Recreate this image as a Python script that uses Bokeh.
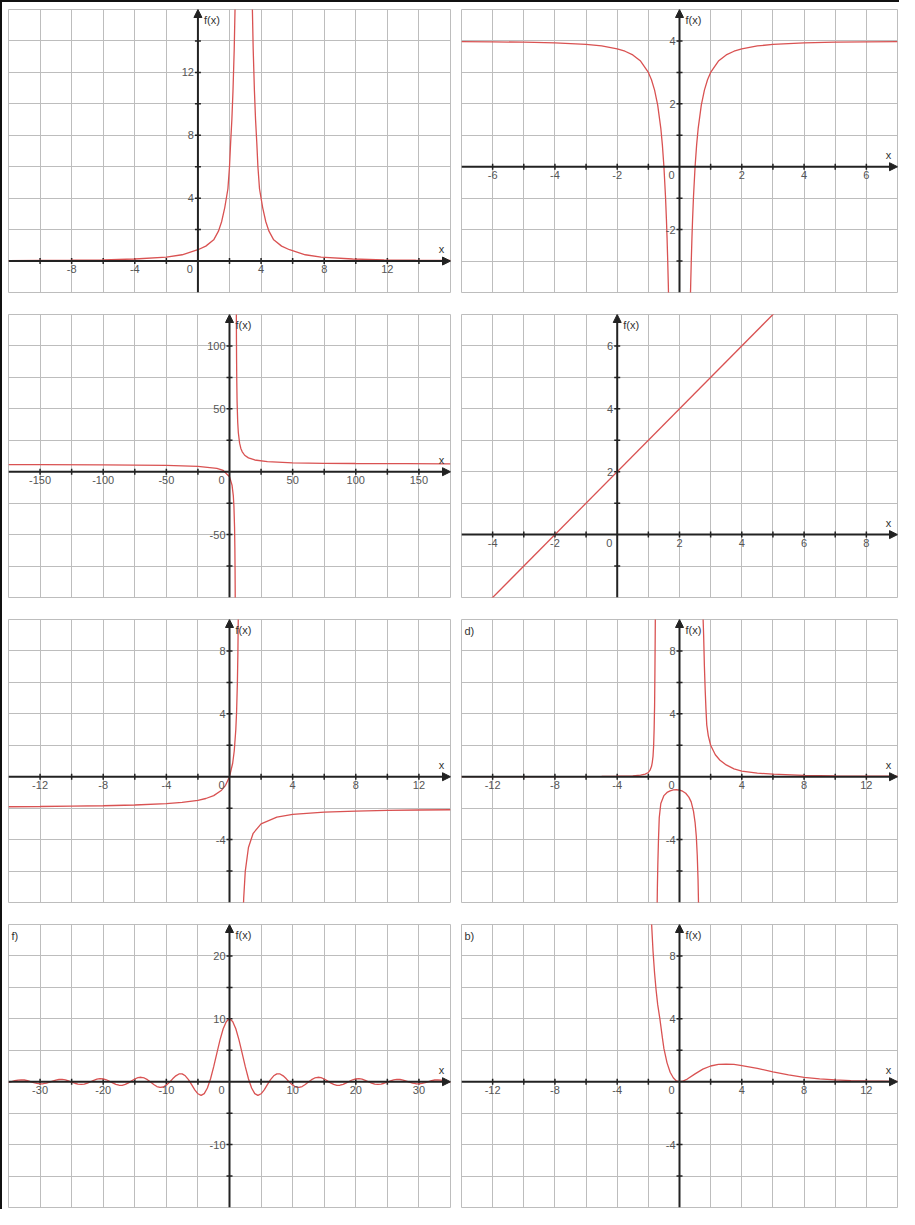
import numpy as np
from bokeh.plotting import figure
from bokeh.layouts import column, row
from bokeh.models import Grid, FixedTicker, Arrow, NormalHead
from bokeh.core.properties import value
from bokeh.embed import file_html
from bokeh.resources import INLINE

# ---------------- data ----------------
# panel 1
p1_left_x = [-12, -10, -8, -6, -4, -2, -1, 0, 0.5, 1, 1.3, 1.5, 1.7, 1.9, 2.0, 2.07, 2.15, 2.22, 2.3, 2.36, 2.42]
p1_left_y = [0.03, 0.04, 0.05, 0.08, 0.13, 0.25, 0.4, 0.72, 0.95, 1.35, 1.9, 2.5, 3.4, 4.6, 6.0, 7.5, 9.0, 10.8, 13.5, 16.5, 20]
p1_right_x = [3.38, 3.44, 3.5, 3.58, 3.65, 3.73, 3.8, 3.9, 4.1, 4.3, 4.5, 4.8, 5.3, 5.8, 6.8, 7.8, 9.8, 11.8, 13.8, 16]
p1_right_y = [20, 16.5, 13.5, 10.8, 9.0, 7.5, 6.0, 4.6, 3.4, 2.5, 1.9, 1.35, 0.95, 0.72, 0.4, 0.25, 0.13, 0.08, 0.05, 0.04]

# panel 2
p2_left_x = [-7, -6, -5, -4, -3, -2.5, -2, -1.75, -1.5, -1.25, -1, -0.9, -0.8, -0.7, -0.6, -0.55, -0.5, -0.45, -0.42, -0.4, -0.38, -0.36, -0.35]
p2_left_y = [3.98, 3.972, 3.96, 3.9375, 3.889, 3.84, 3.75, 3.673, 3.556, 3.36, 3.0, 2.765, 2.4375, 1.959, 1.222, 0.694, 0.0, -0.938, -1.669, -2.25, -2.925, -3.716, -4.163]
p2_right_x = [0.35, 0.36, 0.38, 0.4, 0.42, 0.45, 0.5, 0.55, 0.6, 0.7, 0.8, 0.9, 1, 1.25, 1.5, 1.75, 2, 2.5, 3, 4, 5, 6, 7]
p2_right_y = [-4.163, -3.716, -2.925, -2.25, -1.669, -0.938, 0.0, 0.694, 1.222, 1.959, 2.4375, 2.765, 3.0, 3.36, 3.556, 3.673, 3.75, 3.84, 3.889, 3.9375, 3.96, 3.972, 3.98]

# panel 3
p3_left_x = [-175, -150, -100, -50, -25, -10, -5, 0, 2, 3, 3.5, 4, 4.25, 4.4, 4.5, 4.55]
p3_left_y = [5.72, 5.68, 5.52, 5.09, 4.33, 2.67, 1.0, -4.0, -10.7, -19.0, -27.3, -44.0, -60.7, -77.3, -94.0, -105.0]
p3_right_x = [5.4, 5.45, 5.5, 5.6, 5.75, 6, 6.5, 7, 8, 9, 10, 12, 15, 20, 30, 50, 75, 100, 140, 175]
p3_right_y = [131, 117, 106, 89.3, 72.7, 56, 39.3, 31, 22.7, 18.5, 16, 13.1, 11, 9.33, 8, 7.11, 6.71, 6.53, 6.37, 6.29]

# panel 4
p4_x = [-5, 9]
p4_y = [-3, 11]

# panel 5
p5_left_x = [-14, -12, -10, -8, -6, -4, -3, -2, -1.5, -1, -0.5, -0.25, 0, 0.2, 0.3, 0.4, 0.45, 0.5, 0.53, 0.56]
p5_left_y = [-1.909, -1.895, -1.875, -1.846, -1.8, -1.714, -1.636, -1.5, -1.385, -1.2, -0.857, -0.545, 0.0, 0.857, 1.636, 3.0, 4.154, 6.0, 7.756, 10.5]
p5_right_x = [0.86, 0.88, 0.9, 1, 1.2, 1.5, 2, 3, 4, 6, 8, 10, 12, 14]
p5_right_y = [-8.9, -8.25, -7.714, -6.0, -4.5, -3.6, -3.0, -2.571, -2.4, -2.25, -2.182, -2.143, -2.118, -2.1]

# panel 6 (d)
p6_left_x = [-14, -8, -5, -4, -3, -2.5, -2.2, -2.0, -1.9, -1.8, -1.75, -1.7, -1.66, -1.63, -1.6, -1.58, -1.56, -1.55]
p6_left_y = [0.005, 0.01, 0.02, 0.03, 0.06, 0.1, 0.17, 0.27, 0.4, 0.65, 0.9, 1.3, 2.0, 3.0, 4.5, 6.5, 9.0, 10.5]
p6_mid_x = [-1.44, -1.42, -1.39, -1.35, -1.3, -1.2, -1.0, -0.8, -0.6, -0.4, -0.2, 0, 0.2, 0.4, 0.6, 0.75, 0.9, 1.0, 1.08, 1.14, 1.19, 1.23]
p6_mid_y = [-8.5, -7.0, -5.5, -4.0, -2.6, -1.7, -1.2, -1.0, -0.9, -0.84, -0.83, -0.85, -0.92, -1.05, -1.3, -1.6, -2.2, -2.9, -3.8, -5.0, -6.5, -8.5]
p6_right_x = [1.5, 1.55, 1.6, 1.65, 1.7, 1.75, 1.85, 2, 2.3, 2.6, 3, 3.5, 4, 5, 6, 8, 10, 12, 14]
p6_right_y = [10.5, 9.0, 7.0, 5.5, 4.3, 3.3, 2.6, 2.0, 1.4, 1.05, 0.75, 0.5, 0.36, 0.23, 0.16, 0.09, 0.06, 0.04, 0.03]

p7_x_half = [0, 0.5, 1, 1.5, 2, 2.5, 3, 3.5, 4, 4.5, 5, 5.5, 6, 6.5, 7, 7.5, 8, 8.5, 9, 9.5,
             10, 10.5, 11, 11.5, 12, 12.5, 13, 13.5, 14, 14.5, 15, 15.5, 16, 16.5, 17, 17.5, 18, 18.5, 19, 19.5,
             20, 20.5, 21, 21.5, 22, 22.5, 23, 23.5, 24, 24.5, 25, 25.5, 26, 26.5, 27, 27.5, 28, 28.5, 29, 29.5,
             30, 30.5, 31, 31.5, 32, 32.5, 33, 33.5, 34, 34.5, 35]
p7_y_half = [10.0, 9.589, 8.415, 6.65, 4.546, 2.394, 0.47, -1.002, -1.892, -2.172, -1.918, -1.283, -0.466, 0.331, 0.939, 1.251, 1.237, 0.939, 0.458, -0.079,
             -0.544, -0.838, -0.909, -0.761, -0.447, -0.053, 0.323, 0.595, 0.708, 0.645, 0.434, 0.133, -0.18, -0.431, -0.566, -0.56, -0.417, -0.183, 0.079, 0.311,
             0.456, 0.486, 0.398, 0.218, -0.004, -0.217, -0.368, -0.424, -0.377, -0.243, -0.053, 0.139, 0.293, 0.369, 0.354, 0.258, 0.097, -0.079, -0.229, -0.32,
             -0.329, -0.257, -0.13, 0.027, 0.172, 0.272, 0.303, 0.26, 0.156, 0.017, -0.122]

# panel 8 (b)
p8_x = [-1.85, -1.8, -1.7, -1.6, -1.5, -1.4, -1.26, -1.1, -1, -0.8, -0.6, -0.4, -0.2, 0,
        0.2, 0.5, 1, 1.5, 2, 2.5, 3, 3.5, 4, 5, 6, 7, 8, 9, 10, 11, 12, 14]
p8_y = [11, 10.2, 8.3, 6.9, 5.8, 4.9, 4.0, 2.8, 2.1, 1.2, 0.6, 0.25, 0.05, 0,
        0.03, 0.17, 0.5, 0.8, 1.0, 1.1, 1.12, 1.1, 1.03, 0.85, 0.62, 0.43, 0.28, 0.18, 0.12, 0.07, 0.045, 0.018]

# axis ranges, grid steps and tick labels per panel
p1_axes = dict(x=(-12, 16), y=(-2, 16), dx=2, dy=2, xl=[-8, -4, 4, 8, 12], yl=[4, 8, 12])
p2_axes = dict(x=(-7, 7), y=(-4, 5), dx=1, dy=1, xl=[-6, -4, -2, 2, 4, 6], yl=[4, 2, -2])
p3_axes = dict(x=(-175, 175), y=(-100, 125), dx=25, dy=25, xl=[-150, -100, -50, 50, 100, 150], yl=[100, 50, -50])
p4_axes = dict(x=(-5, 9), y=(-2, 7), dx=1, dy=1, xl=[-4, -2, 2, 4, 6, 8], yl=[6, 4, 2])
p5_axes = dict(x=(-14, 14), y=(-8, 10), dx=2, dy=2, xl=[-12, -8, -4, 4, 8, 12], yl=[8, 4, -4])
p6_axes = dict(x=(-14, 14), y=(-8, 10), dx=2, dy=2, xl=[-12, -8, -4, 4, 8, 12], yl=[8, 4, -4])
p7_axes = dict(x=(-35, 35), y=(-20, 25), dx=5, dy=5, xl=[-30, -20, -10, 10, 20, 30], yl=[20, 10, -10])
p8_axes = dict(x=(-14, 14), y=(-8, 10), dx=2, dy=2, xl=[-12, -8, -4, 4, 8, 12], yl=[8, 4, -4])

# ---------------- styling ----------------
FONT = value("Liberation Sans")
CURVE = "#d95252"
AX = "#222222"
GRID = "#bdbdbd"
LAB = "#555555"


def make_panel(ax, curves, left, top_b, bottom_b, letter=None):
    lb, fw, rb = (6, 442, 5) if left else (6, 436, 2)
    (x0, x1), (y0, y1) = ax["x"], ax["y"]
    p = figure(width=lb + fw + rb, height=top_b + 283 + bottom_b,
               x_range=(x0, x1), y_range=(y0, y1),
               output_backend="svg", toolbar_location=None,
               x_axis_location=None, y_axis_location=None,
               min_border_left=lb, min_border_right=rb,
               min_border_top=top_b, min_border_bottom=bottom_b)
    p.grid.visible = False
    p.outline_line_color = GRID
    p.outline_line_width = 1
    p.background_fill_color = "white"
    p.border_fill_color = "white"

    xt = list(np.arange(x0, x1 + ax["dx"] / 2, ax["dx"]))
    yt = list(np.arange(y0, y1 + ax["dy"] / 2, ax["dy"]))
    p.add_layout(Grid(dimension=0, ticker=FixedTicker(ticks=xt), grid_line_color=GRID, grid_line_width=1))
    p.add_layout(Grid(dimension=1, ticker=FixedTicker(ticks=yt), grid_line_color=GRID, grid_line_width=1))

    # axes with arrows
    p.add_layout(Arrow(end=NormalHead(size=8, fill_color=AX, line_color=AX),
                       x_start=x0, y_start=0, x_end=x1, y_end=0,
                       line_color=AX, line_width=2))
    p.add_layout(Arrow(end=NormalHead(size=8, fill_color=AX, line_color=AX),
                       x_start=0, y_start=y0, x_end=0, y_end=y1,
                       line_color=AX, line_width=2))

    # ticks on axes
    xti = [t for t in xt if x0 < t < x1 and t != 0]
    yti = [t for t in yt if y0 < t < y1 and t != 0]
    p.scatter(x=xti, y=[0] * len(xti), marker="dash", angle=np.pi / 2, size=6,
              line_color=AX, line_width=1.5)
    p.scatter(x=[0] * len(yti), y=yti, marker="dash", size=6,
              line_color=AX, line_width=1.5)

    # curves
    for cx, cy in curves:
        p.line(cx, cy, line_color=CURVE, line_width=1.3)

    # tick labels
    xl = ax["xl"]
    p.text(x=xl, y=[0] * len(xl), text=[str(v) for v in xl], text_font=FONT,
           text_font_size="11px", text_color=LAB, text_align="center",
           text_baseline="top", y_offset=4)
    p.text(x=[0], y=[0], text=["0"], text_font=FONT, text_font_size="11px",
           text_color=LAB, text_align="center", text_baseline="top",
           x_offset=-8, y_offset=4)
    yl = ax["yl"]
    p.text(x=[0] * len(yl), y=yl, text=[str(v) for v in yl], text_font=FONT,
           text_font_size="11px", text_color=LAB, text_align="right",
           text_baseline="middle", x_offset=-4)
    # axis names
    p.text(x=[0], y=[y1], text=["f(x)"], text_font=FONT, text_font_size="11px",
           text_color="#333333", text_align="left", text_baseline="top",
           x_offset=6, y_offset=4)
    p.text(x=[x1], y=[0], text=["x"], text_font=FONT, text_font_size="11px",
           text_color="#333333", text_align="center", text_baseline="bottom",
           x_offset=-9, y_offset=-6)
    if letter:
        p.text(x=[x0], y=[y1], text=[letter], text_font=FONT, text_font_size="11px",
               text_color="#333333", text_align="left", text_baseline="top",
               x_offset=3, y_offset=5)
    return p


p7_x = [-v for v in reversed(p7_x_half[1:])] + p7_x_half
p7_y = list(reversed(p7_y_half[1:])) + p7_y_half

f1 = make_panel(p1_axes, [(p1_left_x, p1_left_y), (p1_right_x, p1_right_y)], True, 7, 11)
f2 = make_panel(p2_axes, [(p2_left_x, p2_left_y), (p2_right_x, p2_right_y)], False, 7, 11)
f3 = make_panel(p3_axes, [(p3_left_x, p3_left_y), (p3_right_x, p3_right_y)], True, 11, 11)
f4 = make_panel(p4_axes, [(p4_x, p4_y)], False, 11, 11)
f5 = make_panel(p5_axes, [(p5_left_x, p5_left_y), (p5_right_x, p5_right_y)], True, 11, 11)
f6 = make_panel(p6_axes, [(p6_left_x, p6_left_y), (p6_mid_x, p6_mid_y), (p6_right_x, p6_right_y)], False, 11, 11, "d)")
f7 = make_panel(p7_axes, [(p7_x, p7_y)], True, 11, 2, "f)")
f8 = make_panel(p8_axes, [(p8_x, p8_y)], False, 11, 2, "b)")

layout = column(row(f1, f2), row(f3, f4), row(f5, f6), row(f7, f8),
                styles={"border-top": "2px solid #111", "border-left": "2px solid #111"})

open("out.html", "w").write(file_html(layout, INLINE))
